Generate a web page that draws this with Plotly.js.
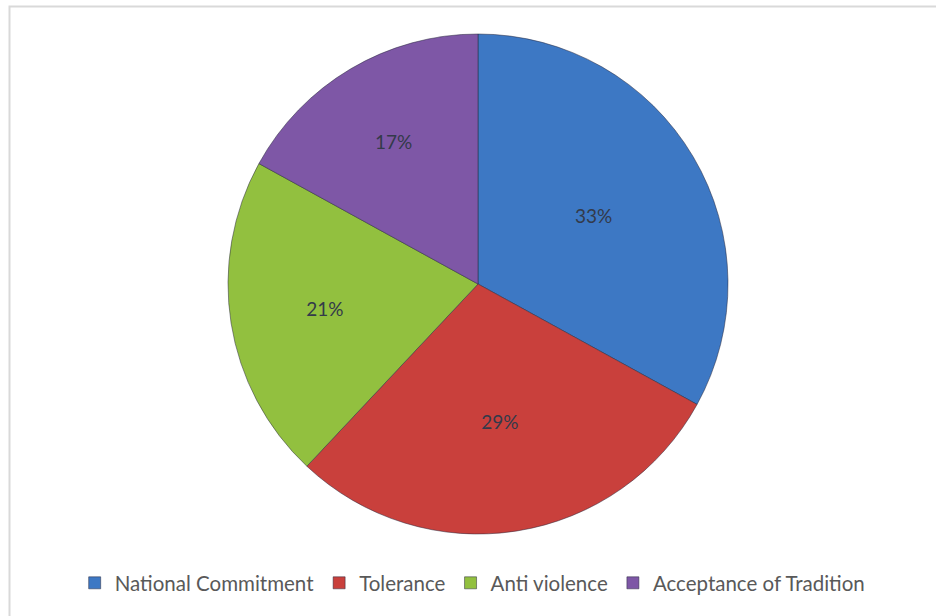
<!DOCTYPE html>
<html>
<head>
<meta charset="utf-8">
<script src="https://cdn.plot.ly/plotly-3.0.1.min.js"></script>
<style>html,body{margin:0;padding:0;background:#fff;}#chart{width:936px;height:616px;}</style>
</head>
<body>
<div id="chart"></div>
<script>
var categories = ["National Commitment", "Tolerance", "Anti violence", "Acceptance of Tradition"];
var values = [33, 29, 21, 17];
var colors = ["#3D78C4", "#C9403C", "#92C03F", "#7E57A6"];

var W = 936, H = 616;
var cx = 478, cy = 284, R = 250;

var trace = {
  type: "pie",
  labels: categories,
  values: values,
  sort: false,
  direction: "clockwise",
  rotation: 0,
  marker: {colors: colors, line: {color: "rgba(40,40,60,0.5)", width: 1}},
  textinfo: "percent",
  texttemplate: "%{percent:.0%}",
  textposition: "inside",
  insidetextorientation: "horizontal",
  insidetextfont: {family: "Lato, 'Open Sans', sans-serif", size: 19, color: "#333a4a"},
  hoverinfo: "label+percent",
  domain: {x: [(cx - R) / W, (cx + R) / W], y: [(H - cy - R) / H, (H - cy + R) / H]}
};

var layout = {
  width: W, height: H,
  margin: {l: 0, r: 0, t: 0, b: 0},
  paper_bgcolor: "#ffffff",
  showlegend: true,
  legend: {
    orientation: "h", x: 0.505, xanchor: "center", y: (H - 583) / H, yanchor: "middle",
    font: {family: "Lato, 'Open Sans', sans-serif", size: 20.5, color: "#595959"},
    itemgap: 4, traceorder: "normal"
  },
  shapes: [{
    type: "rect", xref: "paper", yref: "paper",
    x0: 9.5 / W, x1: 1.02, y0: -0.02, y1: (H - 6.5) / H,
    line: {color: "#d9d9d9", width: 2}, fillcolor: "rgba(0,0,0,0)"
  }]
};

Plotly.newPlot("chart", [trace], layout, {displayModeBar: false, staticPlot: true});
</script>
</body>
</html>
